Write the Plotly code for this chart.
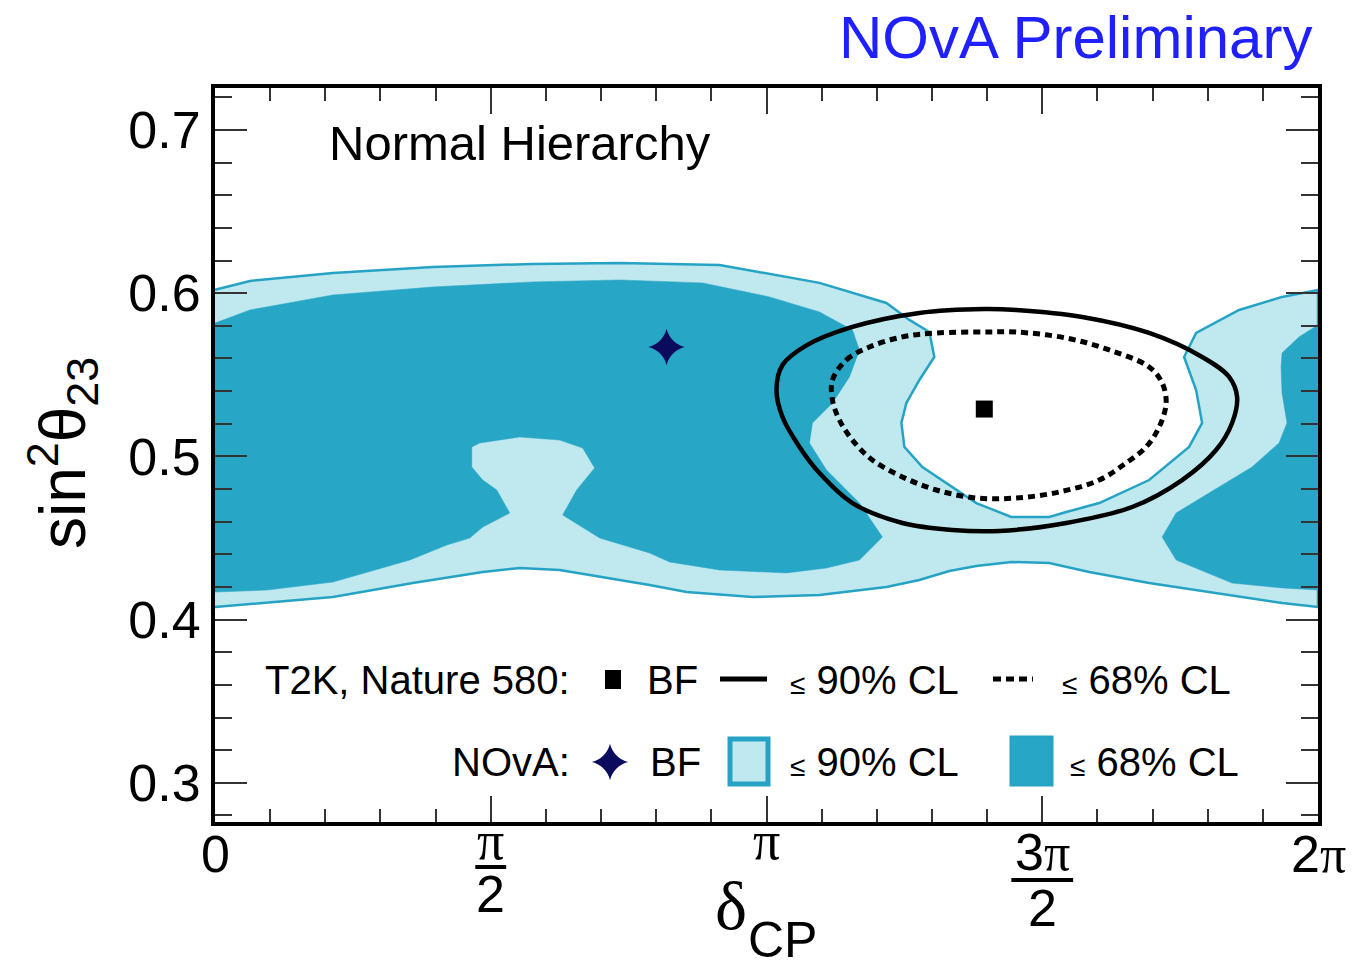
import plotly.graph_objects as go

# ---------------- data (delta_CP in units of pi, sin^2 theta_23) ----------------
nova90_x = [0.0, 0.0634, 0.2138, 0.3949, 0.5761, 0.7337, 0.9149, 1.0960, 1.2174, 1.2591, 1.2953,
            1.3043, 1.2772, 1.2536, 1.2446, 1.2500, 1.2826, 1.3370, 1.3804, 1.4438, 1.5127, 1.5435,
            1.6033, 1.6938, 1.7663, 1.7899, 1.7790, 1.7572, 1.7790, 1.8569, 1.9348, 2.0,
            2.0, 1.9348, 1.8152, 1.6938, 1.5851, 1.5127, 1.4438, 1.3804, 1.3315, 1.2772, 1.2174,
            1.0960, 0.9746, 0.8551, 0.7880, 0.6975, 0.6250, 0.5525, 0.4855, 0.3587, 0.2138, 0.0]
nova90_y = [0.6020, 0.6075, 0.6124, 0.6161, 0.6179, 0.6185, 0.6173, 0.6063, 0.5940, 0.5836, 0.5762,
            0.5609, 0.5468, 0.5327, 0.5205, 0.5058, 0.4935, 0.4813, 0.4714, 0.4629, 0.4629, 0.4659,
            0.4714, 0.4855, 0.5058, 0.5205, 0.5407, 0.5609, 0.5756, 0.5897, 0.5977, 0.6020,
            0.4077, 0.4102, 0.4163, 0.4224, 0.4292, 0.4347, 0.4353, 0.4328, 0.4298, 0.4243, 0.4200,
            0.4151, 0.4138, 0.4169, 0.4212, 0.4261, 0.4304, 0.4316, 0.4292, 0.4224, 0.4138, 0.4077]

nova68_left_x = [0.0, 0.0634, 0.2138, 0.3949, 0.5761, 0.7337, 0.8841, 1.0054, 1.0960, 1.1558, 1.1685,
                 1.1504, 1.1196, 1.0833, 1.0779, 1.1087, 1.1685, 1.2101, 1.1685, 1.1087, 1.0362, 0.9149,
                 0.8243, 0.7880, 0.6975, 0.6304, 0.6558, 0.6884, 0.6667, 0.6250, 0.5525, 0.4801, 0.4656,
                 0.4656, 0.4855, 0.5109, 0.5344, 0.4855, 0.4620, 0.4203, 0.3533, 0.2138, 0.0942, 0.0]
nova68_left_y = [0.5817, 0.5897, 0.5989, 0.6038, 0.6069, 0.6081, 0.6063, 0.5977, 0.5885, 0.5775, 0.5652,
                 0.5487, 0.5327, 0.5205, 0.5082, 0.4917, 0.4714, 0.4506, 0.4365, 0.4316, 0.4286, 0.4304,
                 0.4353, 0.4408, 0.4500, 0.4641, 0.4794, 0.4929, 0.5051, 0.5100, 0.5119, 0.5082, 0.5058,
                 0.4935, 0.4855, 0.4794, 0.4653, 0.4567, 0.4500, 0.4457, 0.4365, 0.4230, 0.4181, 0.4169]

nova68_right_x = [2.0, 1.9656, 1.9348, 1.9330, 1.9348, 1.9438, 1.9293, 1.8804, 1.8025, 1.7428, 1.7174,
                  1.7428, 1.8442, 1.9348, 2.0]
nova68_right_y = [0.5805, 0.5732, 0.5634, 0.5548, 0.5389, 0.5205, 0.5082, 0.4935, 0.4776, 0.4653, 0.4506,
                  0.4365, 0.4224, 0.4194, 0.4181]

t2k90_x = [1.0181, 1.0290, 1.0725, 1.1558, 1.2772, 1.3949, 1.4529, 1.5725, 1.6938, 1.7899, 1.8388,
           1.8533, 1.8442, 1.8152, 1.7536, 1.6630, 1.5435, 1.4221, 1.3370, 1.2464, 1.1558, 1.0960,
           1.0598, 1.0290, 1.0181]
t2k90_y = [0.5407, 0.5560, 0.5680, 0.5793, 0.5879, 0.5903, 0.5897, 0.5854, 0.5756, 0.5609, 0.5487,
           0.5364, 0.5205, 0.5039, 0.4855, 0.4690, 0.4592, 0.4543, 0.4549, 0.4592, 0.4714, 0.4898,
           0.5058, 0.5241, 0.5407]

t2k68_x = [1.1196, 1.1449, 1.1866, 1.2464, 1.3080, 1.4040, 1.4529, 1.5435, 1.6214, 1.6938, 1.7174,
           1.7246, 1.7120, 1.6884, 1.6522, 1.6033, 1.5308, 1.4529, 1.3804, 1.3080, 1.2464, 1.1920,
           1.1558, 1.1322, 1.1196, 1.1196]
t2k68_y = [0.5468, 0.5591, 0.5670, 0.5732, 0.5756, 0.5762, 0.5762, 0.5725, 0.5652, 0.5548, 0.5450,
           0.5327, 0.5180, 0.5058, 0.4960, 0.4855, 0.4782, 0.4745, 0.4745, 0.4794, 0.4874, 0.4978,
           0.5100, 0.5223, 0.5346, 0.5468]

nova_bf_x = [0.8188]
nova_bf_y = [0.5670]
t2k_bf_x = [1.3949]
t2k_bf_y = [0.5290]

# ---------------- styling ----------------
LIGHT = "#c0e8ef"
DARK = "#27a6c6"
EDGE = "#26a3c4"
NAVY = "#0b0b5e"
SANS = "Liberation Sans, Arial, sans-serif"
SERIF = "Liberation Serif, Times New Roman, serif"

W, H = 1367, 964
L, R, T, B = 215, 49, 88, 142
PW, PH = W - L - R, H - T - B


def px(X):
    return (X - L) / PW


def py(Y):
    return (H - B - Y) / PH


fig = go.Figure()

fig.add_trace(go.Scatter(x=nova90_x, y=nova90_y, mode="lines", fill="toself", fillcolor=LIGHT,
                         line=dict(color=EDGE, width=2.5), hoverinfo="skip", showlegend=False))
fig.add_trace(go.Scatter(x=nova68_left_x, y=nova68_left_y, mode="lines", fill="toself", fillcolor=DARK,
                         line=dict(color=DARK, width=0.5), hoverinfo="skip", showlegend=False))
fig.add_trace(go.Scatter(x=nova68_right_x, y=nova68_right_y, mode="lines", fill="toself", fillcolor=DARK,
                         line=dict(color=DARK, width=0.5), hoverinfo="skip", showlegend=False))
fig.add_trace(go.Scatter(x=t2k90_x, y=t2k90_y, mode="lines",
                         line=dict(color="black", width=4.5, shape="spline", smoothing=1.0),
                         showlegend=False))
fig.add_trace(go.Scatter(x=t2k68_x, y=t2k68_y, mode="lines",
                         line=dict(color="black", width=5, dash="7px,5px", shape="spline", smoothing=1.0),
                         showlegend=False))
fig.add_trace(go.Scatter(x=nova_bf_x, y=nova_bf_y, mode="markers",
                         marker=dict(symbol="star-diamond", size=26, color=NAVY), showlegend=False))
fig.add_trace(go.Scatter(x=t2k_bf_x, y=t2k_bf_y, mode="markers",
                         marker=dict(symbol="square", size=17, color="black"), showlegend=False))

# legend marker on an overlay paper-like axis
fig.add_trace(go.Scatter(x=[px(610)], y=[py(762)], mode="markers", xaxis="x2", yaxis="y2",
                         marker=dict(symbol="star-diamond", size=26, color=NAVY), showlegend=False))

axis_common = dict(showline=True, linewidth=4, linecolor="black", mirror="allticks",
                   ticks="inside", tickcolor="#333333", tickwidth=1.5, showgrid=False, zeroline=False)

fig.update_layout(
    width=W, height=H,
    margin=dict(l=L, r=R, t=T, b=B),
    paper_bgcolor="white", plot_bgcolor="white",
    xaxis=dict(range=[0, 2], tickmode="linear", tick0=0, dtick=0.5, ticklen=26,
               showticklabels=False,
               minor=dict(dtick=0.1, tick0=0, ticklen=13, tickcolor="#333333", tickwidth=1.5, ticks="inside"),
               **axis_common),
    yaxis=dict(range=[0.2760, 0.7257], tickmode="linear", tick0=0.3, dtick=0.1, ticklen=32,
               tickformat=".1f", tickfont=dict(family=SANS, size=52, color="black"),
               minor=dict(dtick=0.02, tick0=0.3, ticklen=17, tickcolor="#333333", tickwidth=1.5, ticks="inside"),
               **axis_common),
    xaxis2=dict(overlaying="x", range=[0, 1], visible=False, anchor="y2"),
    yaxis2=dict(overlaying="y", range=[0, 1], visible=False, anchor="x2"),
    showlegend=False,
)

ann = []
shapes = []

# x tick labels (fractions of pi)
pi_s = "<span style='font-family:Liberation Serif'>π</span>"
TF = dict(family=SANS, size=52, color="black")
ann.append(dict(x=0, y=py(854), xref="x", yref="paper", text="0", showarrow=False,
                font=TF, xanchor="center", yanchor="middle"))
ann.append(dict(x=0.5, y=py(841), xref="x", yref="paper", text=pi_s, showarrow=False,
                font=dict(family=SANS, size=54, color="black"), xanchor="center", yanchor="middle"))
shapes.append(dict(type="line", xref="x", yref="paper", x0=0.5 - 0.028, x1=0.5 + 0.028,
                   y0=py(867), y1=py(867), line=dict(color="black", width=4)))
ann.append(dict(x=0.5, y=py(894), xref="x", yref="paper", text="2", showarrow=False,
                font=TF, xanchor="center", yanchor="middle"))
ann.append(dict(x=1, y=py(841), xref="x", yref="paper", text=pi_s, showarrow=False,
                font=dict(family=SANS, size=54, color="black"), xanchor="center", yanchor="middle"))
ann.append(dict(x=1.5, y=py(852), xref="x", yref="paper", text="3" + pi_s, showarrow=False,
                font=TF, xanchor="center", yanchor="middle"))
shapes.append(dict(type="line", xref="x", yref="paper", x0=1.5 - 0.056, x1=1.5 + 0.056,
                   y0=py(880), y1=py(880), line=dict(color="black", width=4)))
ann.append(dict(x=1.5, y=py(908), xref="x", yref="paper", text="2", showarrow=False,
                font=TF, xanchor="center", yanchor="middle"))
ann.append(dict(x=2, y=py(854), xref="x", yref="paper", text="2" + pi_s, showarrow=False,
                font=TF, xanchor="center", yanchor="middle"))

# axis titles
ann.append(dict(x=px(731), y=py(906), xref="paper", yref="paper", text="δ", showarrow=False,
                font=dict(family=SERIF, size=68, color="black"), xanchor="center", yanchor="middle"))
ann.append(dict(x=px(782), y=py(940), xref="paper", yref="paper", text="CP", showarrow=False,
                font=dict(family=SANS, size=50, color="black"), xanchor="center", yanchor="middle"))
ann.append(dict(x=px(62), y=py(453), xref="paper", yref="paper",
                text="sin<sup>2</sup>θ<sub>23</sub>", showarrow=False, textangle=-90,
                font=dict(family=SANS, size=64, color="black"), xanchor="center", yanchor="middle"))

# titles
ann.append(dict(x=px(1314), y=py(38), xref="paper", yref="paper", text="NOvA Preliminary",
                showarrow=False, font=dict(family=SANS, size=60, color="#2020ff"),
                xanchor="right", yanchor="middle"))
ann.append(dict(x=px(327), y=py(143), xref="paper", yref="paper", text="Normal Hierarchy",
                showarrow=False, font=dict(family=SANS, size=49, color="black"),
                xanchor="left", yanchor="middle"))

# legend
LF = dict(family=SANS, size=40, color="black")
le = "<span style='font-size:28px'>≤</span> "


def ltxt(X, Y, s):
    ann.append(dict(x=px(X), y=py(Y), xref="paper", yref="paper", text=s, showarrow=False,
                    font=LF, xanchor="left", yanchor="middle"))


ltxt(263, 680, "T2K, Nature 580:")
shapes.append(dict(type="rect", xref="paper", yref="paper", x0=px(605), x1=px(621),
                   y0=py(689), y1=py(670), fillcolor="black", line=dict(width=0)))
ltxt(645, 680, "BF")
shapes.append(dict(type="line", xref="paper", yref="paper", x0=px(720), x1=px(767),
                   y0=py(679), y1=py(679), line=dict(color="black", width=5)))
ltxt(788, 680, le + "90% CL")
shapes.append(dict(type="line", xref="paper", yref="paper", x0=px(993), x1=px(1033),
                   y0=py(679), y1=py(679), line=dict(color="black", width=5, dash="8px,5px")))
ltxt(1060, 680, le + "68% CL")

ltxt(450, 762, "NOvA:")
ltxt(648, 762, "BF")
shapes.append(dict(type="rect", xref="paper", yref="paper", x0=px(730), x1=px(768),
                   y0=py(784), y1=py(739), fillcolor=LIGHT, line=dict(color=EDGE, width=5)))
ltxt(788, 762, le + "90% CL")
shapes.append(dict(type="rect", xref="paper", yref="paper", x0=px(1011), x1=px(1052),
                   y0=py(785), y1=py(737), fillcolor=DARK, line=dict(color=EDGE, width=3)))
ltxt(1068, 762, le + "68% CL")

fig.update_layout(annotations=ann, shapes=shapes)

fig.write_html("out.html")
